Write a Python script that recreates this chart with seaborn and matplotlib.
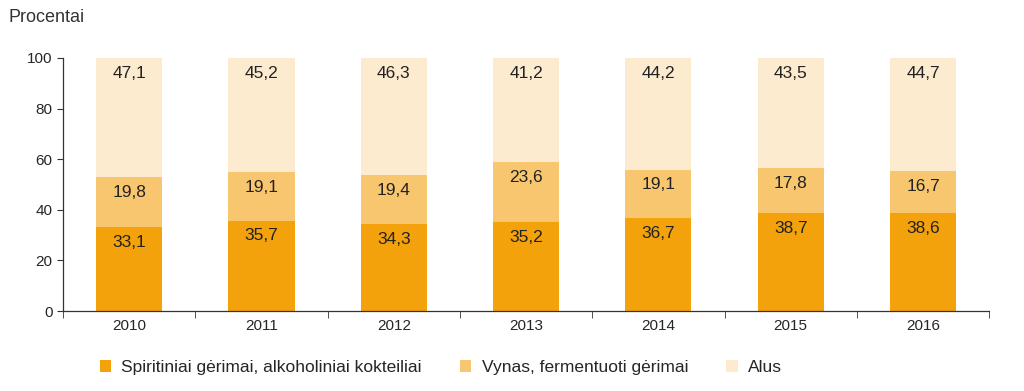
import numpy as np
import pandas as pd
import matplotlib.pyplot as plt
import seaborn as sns
from matplotlib.patches import Patch

years = ['2010', '2011', '2012', '2013', '2014', '2015', '2016']
spirits = [33.1, 35.7, 34.3, 35.2, 36.7, 38.7, 38.6]
wine = [19.8, 19.1, 19.4, 23.6, 19.1, 17.8, 16.7]
beer = [47.1, 45.2, 46.3, 41.2, 44.2, 43.5, 44.7]
labels = ['Spiritiniai gėrimai, alkoholiniai kokteiliai',
          'Vynas, fermentuoti gėrimai', 'Alus']
colors = ['#F4A20C', '#F8C66E', '#FDEBCF']

sns.set_style('white')
plt.rcParams['font.family'] = ['Liberation Sans', 'DejaVu Sans']

df = pd.DataFrame({'year': years, 'spirits': spirits, 'wine': wine, 'beer': beer})
df['b1'] = df['spirits']
df['b2'] = df['spirits'] + df['wine']

fig = plt.figure(figsize=(10.24, 3.91), dpi=100)
ax = fig.add_axes([0.0615, 0.2046, 0.9045, 0.6471])

series = [('spirits', None), ('wine', 'b1'), ('beer', 'b2')]
for (col, base), c in zip(series, colors):
    bottom = np.zeros(len(df)) if base is None else df[base].values
    sns.barplot(data=df, x='year', y=col, color=c, width=0.5, bottom=bottom,
                saturation=1, ax=ax, linewidth=0)
    for i, (v, b) in enumerate(zip(df[col], bottom)):
        ax.text(i, b + v - 3.0, f'{v:.1f}'.replace('.', ','), ha='center', va='top',
                fontsize=12.5, color='#222222')

ax.set_xlim(-0.5, 6.5)
ax.set_ylim(0, 100)
ax.set_yticks(range(0, 101, 20))
ax.set_xlabel('')
ax.set_ylabel('')
for s in ['top', 'right']:
    ax.spines[s].set_visible(False)
for s in ['left', 'bottom']:
    ax.spines[s].set_color('#333333')
    ax.spines[s].set_linewidth(0.9)
ax.tick_params(axis='y', length=4, direction='out', left=True, labelsize=11, color='#333333')
ax.tick_params(axis='x', length=0, labelsize=11, pad=6)
ax.set_xticks(np.arange(-0.5, 7, 1), minor=True)
ax.tick_params(axis='x', which='minor', length=5, bottom=True, color='#333333')

fig.text(0.008, 0.955, 'Procentai', fontsize=13, color='#333333', va='center')

handles = [Patch(facecolor=c, edgecolor='none') for c in colors]
fig.legend(handles, labels, loc='center left', bbox_to_anchor=(0.082, 0.06), ncol=3,
           frameon=False, fontsize=12.5, handlelength=0.65, handleheight=0.65,
           handletextpad=0.6, columnspacing=2.2)

fig.savefig('out.png', dpi=100)
